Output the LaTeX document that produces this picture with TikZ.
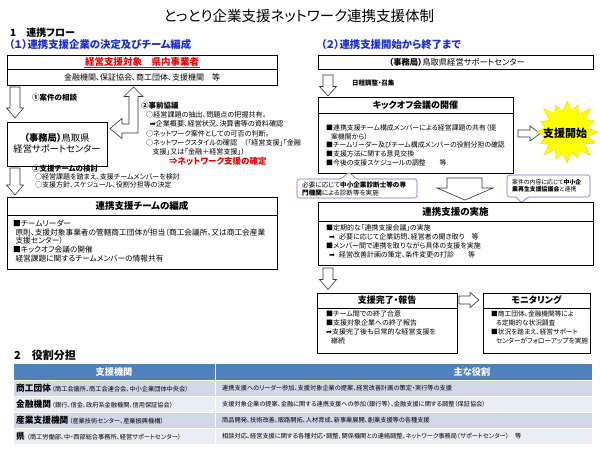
\documentclass[tikz,border=0pt]{standalone}
\usepackage{fontspec}
\setmainfont{Noto Sans CJK JP}[RawFeature=+palt]
\newfontfamily\dvs{DejaVu Sans}
\definecolor{ttlblue}{RGB}{25,45,215}
\definecolor{tred}{RGB}{240,0,0}
\definecolor{thead}{RGB}{79,129,189}
\definecolor{trowa}{RGB}{208,216,232}
\definecolor{trowb}{RGB}{233,237,244}
\definecolor{callc}{RGB}{110,110,210}
\definecolor{burstc}{RGB}{255,255,0}
\newcommand\fsz[2]{\fontsize{#1}{#2}\selectfont}
\newcommand\rarr{{\dvs ➡}}
\begin{document}
\begin{tikzpicture}[x=1pt,y=-1pt,
  bx/.style={draw, line width=1.3pt, anchor=north west, inner sep=0pt},
  hd/.style={anchor=north west, inner sep=0pt},
  sep/.style={line width=0.7pt},
  hdtxt/.style={font=\bfseries\fsz{9}{11}, inner sep=0pt},
  body/.style={anchor=west, inner sep=0pt, align=left},
  harrow/.style={draw=black!80, fill=white, line width=0.6pt, line join=miter},
  lbl/.style={anchor=west, inner sep=0pt},
  callpath/.style={draw=callc, fill=white, rounded corners=2.5pt, line width=0.6pt},
  tabtxt/.style={anchor=west, inner sep=0pt}
]
\useasboundingbox (0,0) rectangle (600,450);
\fill[white] (0,0) rectangle (600,450);

% titles
\node[font=\fsz{14.5}{16}] (title) at (299,16) {とっとり企業支援ネットワーク連携支援体制};
\node[lbl, font=\bfseries\fsz{10}{12}] (sec1) at (10,33) {1　連携フロー};
\node[lbl, font=\bfseries\fsz{10.4}{12}, text=ttlblue] (sub1) at (9,45) {（１）連携支援企業の決定及びチーム編成};
\node[lbl, font=\bfseries\fsz{10.4}{12}, text=ttlblue] (sub2) at (321,45) {（２）連携支援開始から終了まで};

% ---------- left column ----------
\node[bx, minimum width=270, minimum height=30] (b1) at (7,55) {};
\node[hd, minimum width=270, minimum height=14] (b1h) at (7,55) {};
\draw[sep] (b1h.south west) -- (b1h.south east);
\node[font=\bfseries\fsz{9.5}{11}, text=tred, inner sep=0.5pt] (b1t) at (142,62) {経営支援対象　県内事業者};
\draw[tred, line width=0.6pt] (b1t.south west) -- (b1t.south east);
\node[font=\fsz{8}{10}] (b1b) at (142,77.5) {金融機関、保証協会、商工団体、支援機関　等};

\draw[harrow] (10,87) -- (20,87) -- (20,108) -- (23.5,108) -- (15,118) -- (6.5,108) -- (10,108) -- cycle;
\node[lbl, font=\bfseries\fsz{7.5}{9}] (l1) at (32,98) {①案件の相談};

\node[bx, minimum width=100, minimum height=44] (off) at (7,122) {};
\node[font=\fsz{9.3}{11.5}, align=center] (offt) at (57,143.5) {{\bfseries （事務局）}鳥取県\\経営サポートセンター};

\draw[harrow] (133.5,87) -- (143,96.5) -- (138,96.5) -- (138,133) -- (122,133) -- (122,138.5)
  -- (110,128.5) -- (122,118.5) -- (122,124) -- (129,124) -- (129,96.5) -- (124,96.5) -- cycle;
\node[lbl, font=\bfseries\fsz{7.5}{9}] (l2) at (141,105.5) {②事前協議};
\node[body, font=\fsz{7.1}{9.2}] (l2b) at (146,133.5) {○経営課題の抽出、問題点の把握共有。\\
\hspace{0.5em}\rarr 企業概要、経営状況、決算書等の資料確認\\
○ネットワーク案件としての可否の判断。\\
○ネットワークスタイルの確認　（「経営支援」「金融\\
\hspace{0.9em}支援」又は「金融＋経営支援」）};
\node[lbl, font=\bfseries\fsz{8.5}{10}, text=tred] (l2r) at (169,161.5) {⇒ネットワーク支援の確定};

\draw[harrow] (10,168) -- (20,168) -- (20,185) -- (23.5,185) -- (15,195) -- (6.5,185) -- (10,185) -- cycle;
\node[lbl, font=\bfseries\fsz{7.5}{9}] (l3) at (32,169) {③支援チームの検討};
\node[body, font=\fsz{7}{8.2}] (l3b) at (35,181.2) {○経営課題を踏まえ、支援チームメンバーを検討\\○支援方針、スケジュール、役割分担等の決定};

\node[bx, minimum width=270, minimum height=72] (team) at (7,197) {};
\node[hd, minimum width=270, minimum height=17.5] (teamh) at (7,197) {};
\draw[sep] (teamh.south west) -- (teamh.south east);
\node[hdtxt, font=\bfseries\fsz{9.5}{11}] (teamt) at (142,206) {連携支援チームの編成};
\node[body, font=\fsz{7.7}{8.8}] (teamb) at (13,241) {■チームリーダー\\
\hspace{0.3em}原則、支援対象事業者の管轄商工団体が担当（商工会議所、又は商工会産業\\
\hspace{0.3em}支援センター）\\
■キックオフ会議の開催\\
\hspace{0.3em}経営課題に関するチームメンバーの情報共有};

% ---------- right column ----------
\node[bx, minimum width=275, minimum height=14] (ro) at (318,55) {};
\node[font=\fsz{8.3}{10}] (rot) at (457,62) {{\bfseries （事務局）}鳥取県経営サポートセンター};

\draw[harrow] (323,75) -- (333,75) -- (333,86.5) -- (336.5,86.5) -- (328,96) -- (319.5,86.5) -- (323,86.5) -- cycle;
\node[lbl, font=\bfseries\fsz{6.5}{8}] (sched) at (352,83) {日程調整・召集};

\node[bx, minimum width=195, minimum height=76] (kick) at (318,97) {};
\node[hd, minimum width=195, minimum height=16] (kickh) at (318,97) {};
\draw[sep] (kickh.south west) -- (kickh.south east);
\node[hdtxt] (kickt) at (415.5,105) {キックオフ会議の開催};
\node[body, font=\fsz{6.9}{8.6}] (kickb) at (326,145.2) {■連携支援チーム構成メンバーによる経営課題の共有（提\\
\hspace{0.7em}案機関から）\\
■チームリーダー及びチーム構成メンバーの役割分担の確認\\
■支援方法に関する意見交換\\
■今後の支援スケジュールの調整　　等};

\draw[harrow] (518,130) -- (530,130) -- (530,126) -- (540,133.5) -- (530,141) -- (530,137) -- (518,137) -- cycle;

\coordinate (sc) at (567,132);
\foreach \a/\r [count=\i] in {0/31,11/22,22/30,34/21,45/33,56/22,67/28,79/21,90/31,101/22,112/29,124/21,
  135/32,146/22,157/29,169/21,180/31,191/22,202/28,214/21,225/33,236/22,247/29,259/21,
  270/31,281/22,292/29,304/21,315/33,326/22,337/29,349/21}
  \coordinate (s\i) at ([shift={(\a:\r)}]sc);
\draw[fill=burstc, draw=yellow!70!orange, line width=0.5pt, line join=miter] (s1) \foreach \i in {2,...,32} { -- (s\i) } -- cycle;
\node[font=\bfseries\fsz{11}{13}] (start) at (565,133) {支援開始};

% callouts
\coordinate (clt) at (349,172);
\draw[callpath] (297,179) -- (341,179) -- (clt) -- (356,179) -- (417,179) -- (417,198) -- (297,198) -- cycle;
\node[body, font=\fsz{6.6}{8}] (cl) at (302,188.5)
  {必要に応じて{\bfseries 中小企業診断士等の専}\\{\bfseries 門機関}による診断等を実施};

\coordinate (crt) at (521,203);
\draw[callpath] (507,175) -- (590,175) -- (590,197) -- (528,197) -- (crt) -- (517,197) -- (507,197) -- cycle;
\node[body, font=\fsz{5.9}{7.2}] (cr) at (512,186)
  {案件の内容に応じて{\bfseries 中小企}\\{\bfseries 業再生支援協議会}と連携};

\draw[harrow] (447,178) -- (482,178) -- (482,188) -- (493,188) -- (465,200) -- (437,188) -- (447,188) -- cycle;

\node[bx, minimum width=275, minimum height=63] (impl) at (318,202) {};
\node[hd, minimum width=275, minimum height=19] (implh) at (318,202) {};
\draw[sep] (implh.south west) -- (implh.south east);
\node[hdtxt, font=\bfseries\fsz{9.5}{11}] (implt) at (455.5,211.5) {連携支援の実施};
\node[body, font=\fsz{7}{8.9}] (implb) at (326,241.5) {■定期的な「連携支援会議」の実施\\
\hspace{0.4em}\rarr\hspace{0.6em}必要に応じて企業訪問、経営者の聞き取り　等\\
■メンバー間で連携を取りながら具体の支援を実施\\
\hspace{0.4em}\rarr\hspace{0.6em}経営改善計画の策定、条件変更の打診　　等};

\draw[harrow] (323,268) -- (333,268) -- (333,279.5) -- (336.5,279.5) -- (328,289.5) -- (319.5,279.5) -- (323,279.5) -- cycle;

\node[bx, minimum width=140, minimum height=60] (done) at (317,293) {};
\node[hd, minimum width=140, minimum height=14.5] (doneh) at (317,293) {};
\draw[sep] (doneh.south west) -- (doneh.south east);
\node[hdtxt] (donet) at (387,300) {支援完了・報告};
\node[body, font=\fsz{7}{9}] (doneb) at (326,327.7) {■チーム間での終了合意\\
■支援対象企業への終了報告\\
\rarr 支援完了後も日常的な経営支援を\\
\hspace{0.7em}継続};

\draw[harrow] (459,296) -- (470,296) -- (470,292.5) -- (479,300) -- (470,307.5) -- (470,304) -- (459,304) -- cycle;

\node[bx, minimum width=107, minimum height=60] (mon) at (483,293) {};
\node[hd, minimum width=107, minimum height=14.5] (monh) at (483,293) {};
\draw[sep] (monh.south west) -- (monh.south east);
\node[hdtxt] (mont) at (536.5,300) {モニタリング};
\node[body, font=\fsz{6.7}{9}] (monb) at (491,327.7) {■商工団体、金融機関等によ\\
\hspace{0.7em}る定期的な状況調査\\
■状況を踏まえ、経営サポート\\
\hspace{0.7em}センターがフォローアップを実施};

% ---------- section 2 table ----------
\node[lbl, font=\bfseries\fsz{11}{13}] (sec2) at (14,355) {2　役割分担};
\fill[thead] (14,364) rectangle (592,380);
\fill[trowa] (14,381) rectangle (592,396);
\fill[trowb] (14,397) rectangle (592,412);
\fill[trowa] (14,413) rectangle (592,428);
\fill[trowb] (14,429) rectangle (592,444);
\draw[white, line width=1.5pt] (215.5,364) -- (215.5,444);
\node[font=\bfseries\fsz{9.2}{11}, text=white] (th1) at (114,372) {支援機関};
\node[font=\bfseries\fsz{9.2}{11}, text=white] (th2) at (472,372) {主な役割};

\node[tabtxt] (r1a) at (16,388.5) {{\bfseries\fsz{8.7}{10}商工団体}\hspace{1pt}{\fsz{6.2}{8}（商工会議所、商工会連合会、中小企業団体中央会）}};
\node[tabtxt] (r2a) at (16,404.5) {{\bfseries\fsz{8.7}{10}金融機関}\hspace{1pt}{\fsz{6.2}{8}（銀行、信金、政府系金融機関、信用保証協会）}};
\node[tabtxt] (r3a) at (16,420.5) {{\bfseries\fsz{8.7}{10}産業支援機関}\hspace{1pt}{\fsz{6.2}{8}（産業技術センター、産業振興機構）}};
\node[tabtxt] (r4a) at (16,436.5) {{\bfseries\fsz{8.7}{10}県}\hspace{2pt}{\fsz{6.2}{8}（商工労働部、中・西部総合事務所、経営サポートセンター）}};

\node[tabtxt, font=\fsz{6.2}{8}] (r1b) at (222,388.5) {連携支援へのリーダー参加、支援対象企業の提案、経営改善計画の策定・実行等の支援};
\node[tabtxt, font=\fsz{6.2}{8}] (r2b) at (222,404.5) {支援対象企業の提案、金融に関する連携支援への参加（銀行等）、金融支援に関する調整（保証協会）};
\node[tabtxt, font=\fsz{6.2}{8}] (r3b) at (222,420.5) {商品開発、技術改善、販路開拓、人材育成、新事業展開、創業支援等の各種支援};
\node[tabtxt, font=\fsz{6.2}{8}] (r4b) at (222,436.5) {相談対応、経営支援に関する各種対応・調整、関係機関との連絡調整、ネットワーク事務局（サポートセンター）　等};
\end{tikzpicture}
\end{document}
